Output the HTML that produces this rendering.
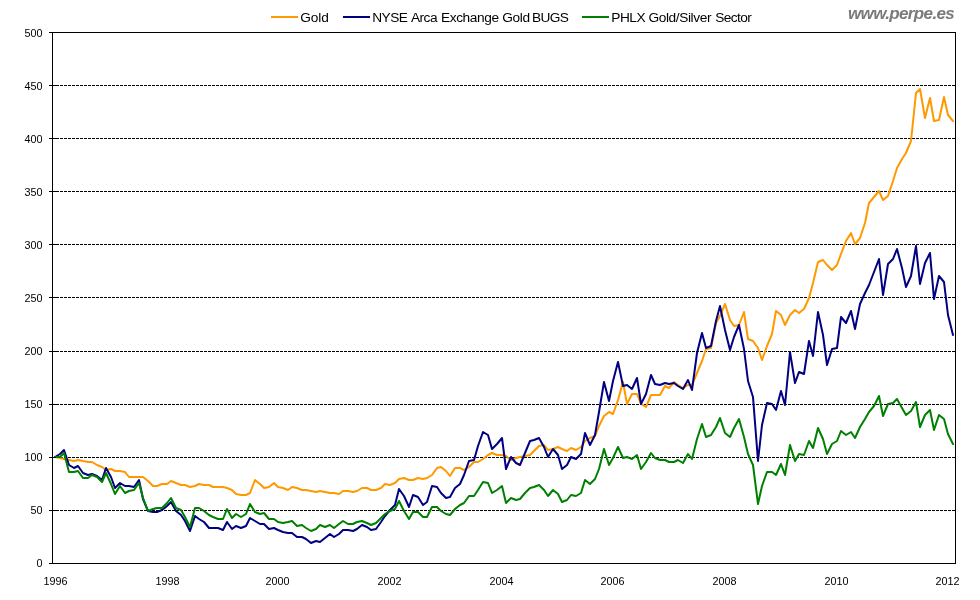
<!DOCTYPE html>
<html lang="en">
<head>
<meta charset="utf-8">
<title>Gold vs NYSE Arca Exchange Gold BUGS vs PHLX Gold/Silver Sector</title>
<style>
html,body{margin:0;padding:0;background:#fff;}
body{width:980px;height:600px;overflow:hidden;}
svg{display:block;}
</style>
</head>
<body>
<svg width="980" height="600" viewBox="0 0 980 600">
<rect x="0" y="0" width="980" height="600" fill="#ffffff"/>
<g stroke="#000" stroke-width="1" stroke-dasharray="3 1" shape-rendering="crispEdges">
<line x1="52" y1="85.5" x2="955" y2="85.5"/>
<line x1="52" y1="138.5" x2="955" y2="138.5"/>
<line x1="52" y1="191.5" x2="955" y2="191.5"/>
<line x1="52" y1="244.5" x2="955" y2="244.5"/>
<line x1="52" y1="297.5" x2="955" y2="297.5"/>
<line x1="52" y1="351.5" x2="955" y2="351.5"/>
<line x1="52" y1="404.5" x2="955" y2="404.5"/>
<line x1="52" y1="457.5" x2="955" y2="457.5"/>
<line x1="52" y1="510.5" x2="955" y2="510.5"/>
</g>
<g>
<polyline points="55,457 60,458 64,459 69,460 74,461 78,460 83,461 88,462 92,462 97,465 102,467 106,470 111,469 115,471 120,471 125,472 129,477 134,477 139,477 143,477 148,481 153,486 157,486 162,484 167,484 171,481 176,483 181,485 185,485 190,487 195,486 199,484 204,485 209,485 213,487 218,487 223,487 227,488 232,490 236,494 241,495 246,495 250,493 255,480 260,484 264,488 269,487 274,483 278,487 283,488 288,490 292,487 297,488 302,490 306,490 311,491 316,492 320,491 325,492 330,493 334,493 339,494 343,491 348,491 353,492 357,491 362,488 367,488 371,490 376,490 381,488 385,484 390,485 395,483 399,479 404,478 409,480 413,480 418,478 423,479 427,478 432,475 437,468 441,467 446,471 450,476 455,468 460,468 464,470 469,467 474,462 478,462 483,459 488,455 492,453 497,455 502,455 506,456 511,460 516,458 520,457 525,456 530,455 534,451 539,446 544,445 548,450 553,449 558,447 562,449 567,451 571,448 576,450 581,447 585,441 590,438 595,436 599,426 604,416 609,412 613,414 618,400 623,382 627,404 632,394 637,394 641,404 646,407 651,395 655,395 660,395 665,386 669,388 674,382 678,385 683,388 688,385 692,385 697,373 702,361 706,349 711,348 716,323 720,316 725,304 730,320 734,326 739,325 744,312 748,339 753,341 758,348 762,360 767,346 772,334 776,311 781,315 785,325 790,315 795,310 799,313 804,309 809,298 813,283 818,262 823,260 827,265 832,270 837,265 841,254 846,241 851,233 855,244 860,238 865,223 869,203 874,197 879,191 883,200 888,196 893,181 897,168 902,159 906,153 911,141 916,93 920,89 925,118 930,98 934,121 939,120 944,97 948,115 953,121" fill="none" stroke="#FF9900" stroke-width="2.0" stroke-linejoin="round" stroke-linecap="round"/>
<polyline points="55,457 60,454 64,450 69,465 74,468 78,466 83,473 88,475 92,474 97,476 102,480 106,468 111,477 115,488 120,483 125,486 129,486 134,487 139,480 143,499 148,511 153,512 157,512 162,510 167,506 171,502 176,511 181,515 185,521 190,531 195,516 199,519 204,522 209,528 213,528 218,528 223,530 227,522 232,529 236,526 241,528 246,526 250,518 255,521 260,524 264,524 269,529 274,528 278,530 283,532 288,533 292,533 297,537 302,537 306,539 311,543 316,541 320,542 325,538 330,534 334,537 339,534 343,530 348,530 353,531 357,529 362,525 367,527 371,530 376,529 381,522 385,516 390,510 395,505 399,489 404,496 409,507 413,495 418,497 423,505 427,502 432,486 437,487 441,493 446,498 450,497 455,488 460,484 464,475 469,461 474,460 478,446 483,432 488,435 492,449 497,444 502,438 506,469 511,457 516,463 520,465 525,453 530,441 534,440 539,438 544,447 548,457 553,449 558,455 562,469 567,465 571,457 576,459 581,454 585,433 590,445 595,435 599,412 604,382 609,401 613,381 618,362 623,386 627,385 632,389 637,378 641,404 646,394 651,375 655,384 660,385 665,383 669,384 674,383 678,386 683,389 688,380 692,390 697,353 702,333 706,348 711,346 716,321 720,306 725,330 730,350 734,337 739,325 744,349 748,381 753,397 758,461 762,425 767,403 772,404 776,410 781,391 785,405 790,352 795,383 799,372 804,374 809,341 813,356 818,312 823,335 827,365 832,349 837,348 841,317 846,323 851,311 855,329 860,304 865,293 869,285 874,272 879,259 883,295 888,264 893,259 897,249 902,268 906,287 911,276 916,246 920,284 925,263 930,253 934,299 939,276 944,282 948,315 953,335" fill="none" stroke="#000080" stroke-width="2.0" stroke-linejoin="round" stroke-linecap="round"/>
<polyline points="55,457 60,457 64,453 69,472 74,472 78,471 83,478 88,478 92,475 97,477 102,482 106,473 111,484 115,494 120,486 125,493 129,491 134,490 139,483 143,498 148,511 153,509 157,508 162,508 167,503 171,498 176,508 181,510 185,517 190,527 195,508 199,508 204,511 209,515 213,517 218,519 223,519 227,509 232,518 236,514 241,517 246,514 250,504 255,512 260,514 264,513 269,519 274,519 278,522 283,523 288,522 292,521 297,526 302,525 306,528 311,531 316,529 320,525 325,527 330,525 334,528 339,524 343,521 348,524 353,524 357,522 362,521 367,523 371,525 376,523 381,518 385,514 390,511 395,509 399,501 404,511 409,519 413,512 418,512 423,517 427,517 432,507 437,507 441,511 446,514 450,515 455,509 460,505 464,503 469,496 474,496 478,490 483,482 488,483 492,493 497,490 502,486 506,503 511,498 516,500 520,499 525,493 530,488 534,487 539,485 544,490 548,496 553,490 558,494 562,502 567,500 571,495 576,496 581,493 585,480 590,484 595,479 599,469 604,449 609,465 613,458 618,447 623,458 627,457 632,459 637,455 641,469 646,462 651,453 655,458 660,460 665,460 669,462 674,462 678,460 683,463 688,454 692,459 697,439 702,424 706,437 711,435 716,427 720,418 725,433 730,437 734,428 739,419 744,437 748,454 753,465 758,504 762,486 767,472 772,472 776,475 781,464 785,475 790,445 795,461 799,454 804,455 809,441 813,448 818,428 823,439 827,454 832,444 837,441 841,431 846,435 851,432 855,438 860,427 865,419 869,412 874,406 879,396 883,416 888,404 893,403 897,399 902,408 906,415 911,411 916,402 920,427 925,415 930,410 934,430 939,415 944,419 948,434 953,444" fill="none" stroke="#008000" stroke-width="2.0" stroke-linejoin="round" stroke-linecap="round"/>
</g>
<g stroke="#000" stroke-width="1" fill="none" shape-rendering="crispEdges">
<rect x="52.5" y="32.5" width="903.0" height="531.0"/>
<line x1="49" y1="32.5" x2="56" y2="32.5"/>
<line x1="49" y1="85.5" x2="56" y2="85.5"/>
<line x1="49" y1="138.5" x2="56" y2="138.5"/>
<line x1="49" y1="191.5" x2="56" y2="191.5"/>
<line x1="49" y1="244.5" x2="56" y2="244.5"/>
<line x1="49" y1="297.5" x2="56" y2="297.5"/>
<line x1="49" y1="351.5" x2="56" y2="351.5"/>
<line x1="49" y1="404.5" x2="56" y2="404.5"/>
<line x1="49" y1="457.5" x2="56" y2="457.5"/>
<line x1="49" y1="510.5" x2="56" y2="510.5"/>
<line x1="49" y1="563.5" x2="56" y2="563.5"/>
</g>
<g font-family="'Liberation Sans', sans-serif" font-size="10.8" fill="#000" text-anchor="end">
<text x="42.5" y="37">500</text>
<text x="42.5" y="90">450</text>
<text x="42.5" y="143">400</text>
<text x="42.5" y="196">350</text>
<text x="42.5" y="249">300</text>
<text x="42.5" y="302">250</text>
<text x="42.5" y="355">200</text>
<text x="42.5" y="408">150</text>
<text x="42.5" y="461">100</text>
<text x="42.5" y="514">50</text>
<text x="42.5" y="567">0</text>
</g>
<g font-family="'Liberation Sans', sans-serif" font-size="10.8" fill="#000" text-anchor="start">
<text x="43.60" y="585">1996</text>
<text x="155.60" y="585">1998</text>
<text x="265.60" y="585">2000</text>
<text x="377.60" y="585">2002</text>
<text x="489.60" y="585">2004</text>
<text x="600.60" y="585">2006</text>
<text x="712.60" y="585">2008</text>
<text x="824.60" y="585">2010</text>
<text x="935.60" y="585">2012</text>
</g>
<g font-family="'Liberation Sans', sans-serif" font-size="13.7" fill="#000">
<line x1="271" y1="17" x2="298" y2="17" stroke="#FF9900" stroke-width="2" shape-rendering="crispEdges"/>
<text y="22" xml:space="preserve"><tspan x="300.3" style="letter-spacing:-0.1px">Gold</tspan></text>
<line x1="343" y1="17" x2="370" y2="17" stroke="#000080" stroke-width="2" shape-rendering="crispEdges"/>
<text y="22" xml:space="preserve"><tspan x="372.2" style="letter-spacing:-0.5px">NYSE </tspan><tspan x="410.9" style="letter-spacing:-0.5px">Arca </tspan><tspan x="441.0" style="letter-spacing:-0.4px">Exchange </tspan><tspan x="502.3" style="letter-spacing:-0.4px">Gold </tspan><tspan x="532.0" style="letter-spacing:-0.65px">BUGS</tspan></text>
<line x1="582" y1="17" x2="609" y2="17" stroke="#008000" stroke-width="2" shape-rendering="crispEdges"/>
<text y="22" xml:space="preserve"><tspan x="611.3" style="letter-spacing:-0.5px">PHLX </tspan><tspan x="648.5" style="letter-spacing:-0.4px">Gold/Silver </tspan><tspan x="715.2" style="letter-spacing:-0.6px">Sector</tspan></text>
</g>
<text x="848.0" y="19" textLength="106.8" lengthAdjust="spacing" font-family="'Liberation Sans', sans-serif" font-size="17" font-weight="bold" font-style="italic" fill="#7a7a7a">www.perpe.es</text>
</svg>
</body>
</html>
